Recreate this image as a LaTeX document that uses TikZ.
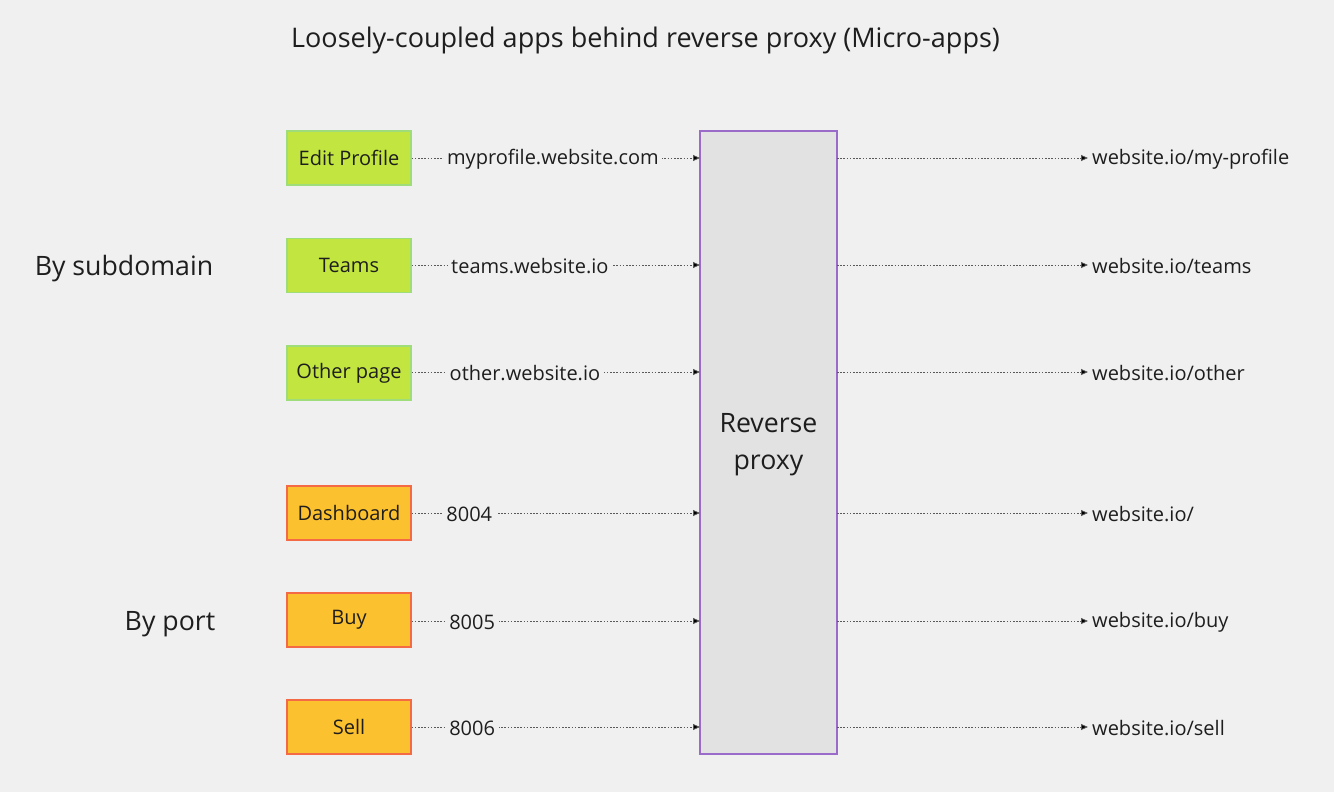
\documentclass[tikz,border=0pt]{standalone}
\usepackage{fontspec}
\setmainfont{Open Sans}
\usetikzlibrary{arrows.meta}
\definecolor{bg}{HTML}{F0F0F0}
\definecolor{gfill}{HTML}{C2E63F}
\definecolor{gline}{HTML}{9EDD7A}
\definecolor{ofill}{HTML}{FBC12E}
\definecolor{oline}{HTML}{F46A45}
\definecolor{pfill}{HTML}{E2E2E2}
\definecolor{pline}{HTML}{9B6BC9}
\definecolor{txt}{HTML}{1E1E1E}
\tikzset{
  app/.style={draw, line width=1.2pt, minimum width=124pt, minimum height=54pt, inner sep=0pt, font=\fontsize{20}{24}\selectfont, text=txt},
  green/.style={app, fill=gfill, draw=gline},
  orange/.style={app, fill=ofill, draw=oline},
  conn/.style={draw=black!65, line width=0.8pt, dash pattern=on 1.6pt off 1.6pt, -{Triangle[length=7pt,width=6pt,fill=black]}},
  lbl/.style={fill=bg, inner sep=3.5pt, font=\fontsize{20}{24}\selectfont, text=txt, yshift=-1.5pt},
  outlbl/.style={anchor=west, inner sep=4pt, font=\fontsize{20}{24}\selectfont, text=txt, yshift=-1.5pt},
  side/.style={font=\fontsize{26.7}{30}\selectfont, text=txt}
}
\begin{document}
\begin{tikzpicture}[x=1pt,y=-1pt]
\fill[bg] (0,0) rectangle (1334,792);
\useasboundingbox (0,0) rectangle (1334,792);
\node[font=\fontsize{27}{32}\selectfont, text=txt] (title) at (645.5,40) {Loosely-coupled apps behind reverse proxy (Micro-apps)};
\node[side] (sub) at (124,269) {By subdomain};
\node[side] (port) at (170,624) {By port};
\node[draw=pline, fill=pfill, line width=1.2pt, minimum width=137pt, minimum height=623pt, inner sep=0pt, align=center, font=\fontsize{26.7}{37}\selectfont, text=txt] (proxy) at (768.5,442.5) {};
\node[align=center, font=\fontsize{26.7}{37}\selectfont, text=txt] (ptext) at (768.5,444.5) {Reverse\\proxy};
% apps
\node[green] (a1) at (349,158) {Edit Profile};
\node[green] (a2) at (349,265.5) {Teams};
\node[green] (a3) at (349,373) {Other page};
\node[orange] (a4) at (349,513) {Dashboard};
\node[orange] (a5) at (349,620) {Buy};
\node[orange] (a6) at (349,727) {Sell};
% targets on proxy
\foreach \i/\y in {1/158,2/265,3/372,4/513,5/621,6/727}{
  \coordinate (in\i) at (700,\y);
  \coordinate (po\i) at (837,\y);
}
\node[outlbl] (o1) at (1088,158) {website.io/my-profile};
\node[outlbl] (o2) at (1088,265) {website.io/teams};
\node[outlbl] (o3) at (1088,372) {website.io/other};
\node[outlbl] (o4) at (1088,513) {website.io/};
\node[outlbl] (o5) at (1088,621) {website.io/buy};
\node[outlbl] (o6) at (1088,727) {website.io/sell};
% connectors in
\draw[conn] (a1.east |- in1) -- node[lbl, pos=0.49] (l1) {myprofile.website.com} (in1);
\draw[conn] (a2.east |- in2) -- node[lbl, pos=0.41] (l2) {teams.website.io} (in2);
\draw[conn] (a3.east |- in3) -- node[lbl, pos=0.393] (l3) {other.website.io} (in3);
\draw[conn] (a4.east |- in4) -- node[lbl, pos=0.20] (l4) {8004} (in4);
\draw[conn] (a5.east |- in5) -- node[lbl, pos=0.21] (l5) {8005} (in5);
\draw[conn] (a6.east |- in6) -- node[lbl, pos=0.21] (l6) {8006} (in6);
% connectors out
\foreach \i in {1,...,6}{
  \draw[conn] (po\i) -- (o\i.west |- po\i);
}
\end{tikzpicture}
\end{document}
